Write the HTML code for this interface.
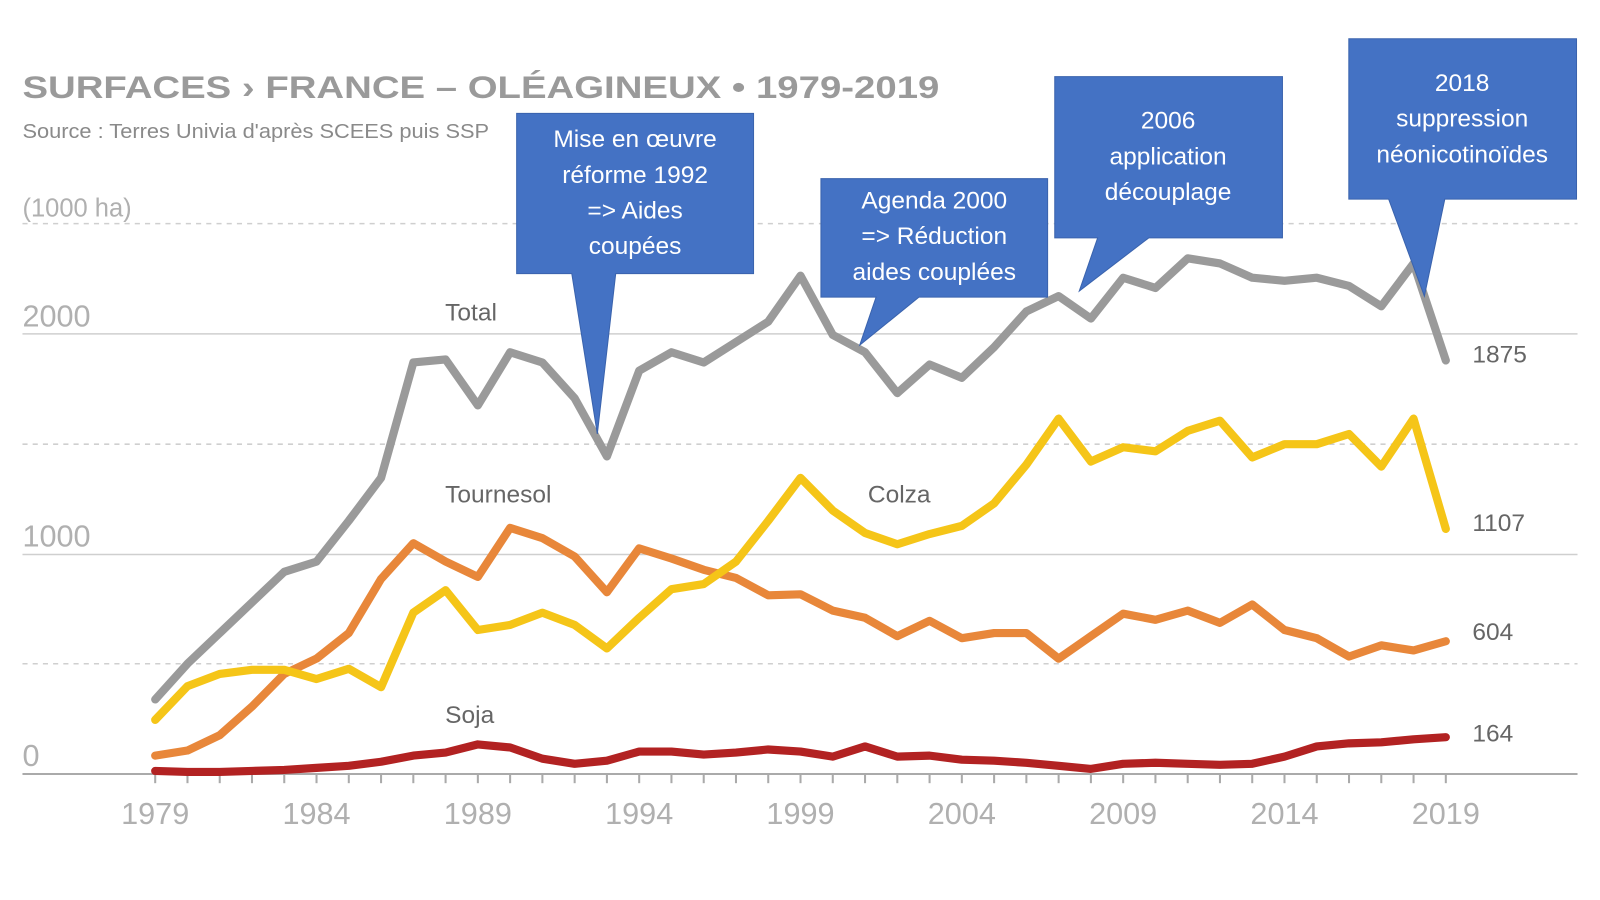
<!DOCTYPE html>
<html><head><meta charset="utf-8"><style>
html,body{margin:0;padding:0;background:#fff;}
svg{display:block;}
</style></head><body>
<svg width="1600" height="900" viewBox="0 0 1567 881.4" preserveAspectRatio="none" xmlns="http://www.w3.org/2000/svg" font-family="Liberation Sans, sans-serif">
<rect width="1600" height="900" fill="#fff"/>
<text x="22" y="96" font-size="31" font-weight="bold" fill="#9a9a9a" textLength="898" lengthAdjust="spacingAndGlyphs">SURFACES › FRANCE – OLÉAGINEUX • 1979-2019</text>
<text x="22" y="135" font-size="20" fill="#8a8a8a" textLength="457" lengthAdjust="spacingAndGlyphs">Source : Terres Univia d'après SCEES puis SSP</text>
<text x="22" y="212" font-size="25" fill="#b0b0b0">(1000 ha)</text>
<g stroke="#cfcfcf" stroke-width="1.5" stroke-dasharray="5,5">
<line x1="22" y1="219" x2="1545" y2="219"/><line x1="22" y1="435" x2="1545" y2="435"/><line x1="22" y1="650" x2="1545" y2="650"/>
</g>
<g stroke="#cfcfcf" stroke-width="1.5">
<line x1="22" y1="327" x2="1545" y2="327"/><line x1="22" y1="543" x2="1545" y2="543"/>
</g>
<line x1="22" y1="758" x2="1545" y2="758" stroke="#aaa" stroke-width="2"/>
<g id="ticks" stroke="#aaa" stroke-width="2"></g>
<g font-size="30" fill="#b0b0b0">
<text x="22" y="320">2000</text><text x="22" y="535">1000</text><text x="22" y="750">0</text>
</g>
<g font-size="30" fill="#b0b0b0" text-anchor="middle">
<text x="152" y="807">1979</text><text x="310" y="807">1984</text><text x="468" y="807">1989</text><text x="626" y="807">1994</text><text x="784" y="807">1999</text><text x="942" y="807">2004</text><text x="1100" y="807">2009</text><text x="1258" y="807">2014</text><text x="1416" y="807">2019</text>
</g>
<g fill="none" stroke-width="8" stroke-linejoin="round" stroke-linecap="round" id="lines"></g>
<g font-size="24" fill="#666">
<text x="436" y="314">Total</text><text x="436" y="492">Tournesol</text><text x="850" y="492">Colza</text><text x="436" y="708">Soja</text>
<text x="1442" y="355">1875</text><text x="1442" y="520">1107</text><text x="1442" y="627">604</text><text x="1442" y="726">164</text>
</g>
<g fill="#4472C4" stroke="#3a63ad" stroke-width="1">
<path d="M506,111 H738 V268 H603 L585,425 L560,268 H506 Z"/>
<path d="M804,175 H1026 V291 H900 L842,338 L858,291 H804 Z"/>
<path d="M1033,75 H1256 V233 H1125 L1057,285 L1075,233 H1033 Z"/>
<path d="M1321,38 H1544 V195 H1415 L1395,290 L1360,195 H1321 Z"/>
</g>
<g fill="#fff" font-size="24" text-anchor="middle">
<text x="622" y="144">Mise en œuvre</text><text x="622" y="179">réforme 1992</text><text x="622" y="214">=&gt; Aides</text><text x="622" y="249">coupées</text>
<text x="915" y="204">Agenda 2000</text><text x="915" y="239">=&gt; Réduction</text><text x="915" y="274">aides couplées</text>
<text x="1144" y="126">2006</text><text x="1144" y="161">application</text><text x="1144" y="196">découplage</text>
<text x="1432" y="89">2018</text><text x="1432" y="124">suppression</text><text x="1432" y="159">néonicotinoïdes</text>
</g>
<script>
var NS="http://www.w3.org/2000/svg";
var t=document.getElementById('ticks');
for(var i=0;i<=40;i++){var x=152+31.6*i;var l=document.createElementNS(NS,'line');l.setAttribute('x1',x);l.setAttribute('x2',x);l.setAttribute('y1',758);l.setAttribute('y2',767);t.appendChild(l);}
var S={
"#b22222":[755,756,756,755,754,752,750,746,740,737,729,732,743,748,745,736,736,739,737,734,736,741,731,741,740,744,745,747,750,753,748,747,748,749,748,741,731,728,727,724,722],
"#e8873a":[740,735,720,692,660,645,620,567,532,550,565,517,527,545,580,537,547,558,566,583,582,598,605,623,608,625,620,620,645,623,601,607,598,610,592,617,625,643,632,637,628],
"#f5c518":[705,672,660,656,656,665,655,673,600,578,617,612,600,612,635,605,577,572,550,510,468,500,522,533,523,515,493,455,410,452,438,442,422,412,448,435,435,425,457,410,518],
"#9a9a9a":[685,650,620,590,560,550,510,468,355,352,397,345,355,390,447,363,345,355,335,315,270,328,345,385,357,370,340,305,290,312,272,282,253,258,272,275,272,280,300,258,353]};
var g=document.getElementById('lines');
["#b22222","#e8873a","#f5c518","#9a9a9a"].forEach(function(c){var p=S[c].map(function(y,i){return (152+31.6*i).toFixed(1)+','+y;}).join(' ');var e=document.createElementNS(NS,'polyline');e.setAttribute('points',p);e.setAttribute('stroke',c);g.appendChild(e);});
</script>
</svg>
</body></html>
